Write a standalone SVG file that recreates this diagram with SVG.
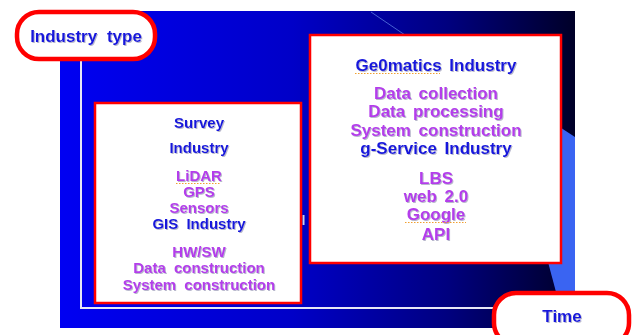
<svg xmlns="http://www.w3.org/2000/svg" width="633" height="335" viewBox="0 0 633 335">
<defs>
<linearGradient id="bg" x1="0" y1="0" x2="1" y2="0">
<stop offset="0" stop-color="#0000f2"/>
<stop offset="0.45" stop-color="#0000c8"/>
<stop offset="0.75" stop-color="#000080"/>
<stop offset="1" stop-color="#000028"/>
</linearGradient>
<filter id="sh" x="-5%" y="-20%" width="110%" height="140%">
<feDropShadow dx="1" dy="1" stdDeviation="0.4" flood-color="#8888aa" flood-opacity="0.6"/>
</filter>
</defs>
<style>
.box{fill:#ffffff;stroke:#ff0000;stroke-width:2.5}
.oval{fill:#ffffff;stroke:#ff0000;stroke-width:4.5}
.t{font-family:"Liberation Sans",Arial,sans-serif;font-weight:bold;text-anchor:middle;filter:url(#sh)}
.b{fill:#1414dc}
.p{fill:#b43ceb}
.s{font-size:15px;word-spacing:4px}
.l{font-size:17px;word-spacing:3px}
.axis{stroke:#e6e6f5;stroke-width:2;fill:none}
.spell{stroke:#f0a030;stroke-width:1;stroke-dasharray:1.5 1.5;fill:none}
</style>
<g id="background">
<rect x="60" y="11" width="515" height="317" fill="url(#bg)"/>
<polygon points="552,122 575,137 575,292 556,292 548,262" fill="#3a64f2"/>
<line x1="371" y1="12" x2="405" y2="35" stroke="#5a7ae0" stroke-width="1" opacity="0.8"/>
<rect x="302.5" y="215" width="2" height="10" fill="#d0d0e8"/>
</g>
<g id="connectors">
<polyline class="axis" points="81,58 81,308 495,308"/>
</g>
<g id="industry-type">
<rect class="oval" x="17" y="12" width="138" height="47" rx="22"/>
<text class="t b" x="86" y="42" style="font-size:17px;word-spacing:5px">Industry type</text>
</g>
<g id="time">
<rect class="oval" x="494" y="293" width="135" height="52" rx="22"/>
<text class="t b" x="562" y="322" style="font-size:17px">Time</text>
</g>
<g id="survey-gis">
<rect class="box" x="95" y="103" width="206" height="200"/>
<text class="t b s" x="199" y="128">Survey</text>
<text class="t b s" x="199" y="153">Industry</text>
<text class="t p s" x="199" y="181">LiDAR</text>
<path class="spell" d="M176,183.5 H221"/>
<text class="t p s" x="199" y="197">GPS</text>
<text class="t p s" x="199" y="213">Sensors</text>
<text class="t b s" x="199" y="229">GIS Industry</text>
<text class="t p s" x="199" y="257">HW/SW</text>
<text class="t p s" x="199" y="273">Data construction</text>
<text class="t p s" x="199" y="290">System construction</text>
</g>
<g id="geomatics">
<rect class="box" x="310" y="35" width="251" height="228"/>
<text class="t b l" x="436" y="71">Ge0matics Industry</text>
<path class="spell" d="M355,73.5 H440"/>
<text class="t p l" x="436" y="99">Data collection</text>
<text class="t p l" x="436" y="117">Data processing</text>
<text class="t p l" x="436" y="136">System construction</text>
<text class="t b l" x="436" y="154">g-Service Industry</text>
<text class="t p l" x="436" y="184">LBS</text>
<text class="t p l" x="436" y="202">web 2.0</text>
<text class="t p l" x="436" y="220">Google</text>
<path class="spell" d="M405,222.5 H466"/>
<text class="t p l" x="436" y="240">API</text>
</g>
</svg>
